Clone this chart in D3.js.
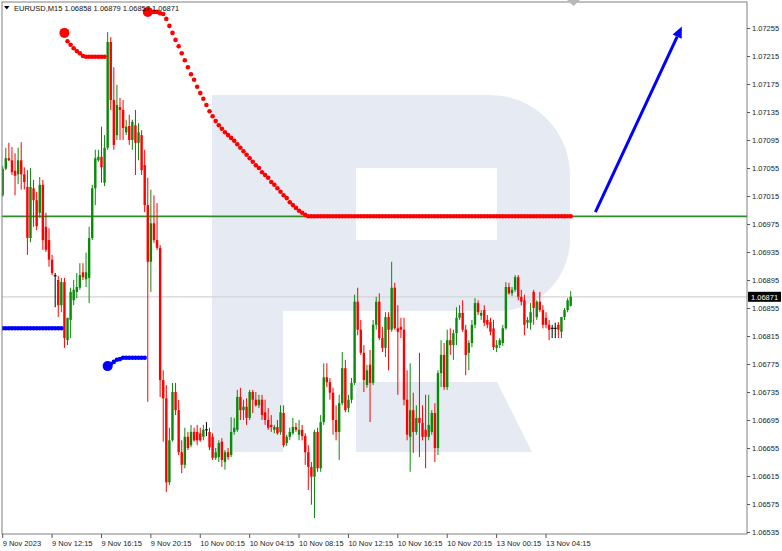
<!DOCTYPE html>
<html><head><meta charset="utf-8">
<script src="https://cdn.jsdelivr.net/npm/d3@7/dist/d3.min.js"></script>
<style>body{margin:0;background:#fff}svg{display:block}text{font-family:"Liberation Sans",Arial,sans-serif}</style>
</head><body>
<svg id="chart" width="782" height="551"></svg>
<script>
const symbolTitle = "EURUSD,M15  1.06858 1.06879 1.06857 1.06871";
const lastPrice = 1.06871;
const levelPrice = 1.06986;
const xTickBars = [0,16,32,48,64,80,96,112,128,144,160,176];
const xTickLabels = ["9 Nov 2023","9 Nov 12:15","9 Nov 16:15","9 Nov 20:15","10 Nov 00:15","10 Nov 04:15","10 Nov 08:15","10 Nov 12:15","10 Nov 16:15","10 Nov 20:15","13 Nov 00:15","13 Nov 04:15"];
const yTicks = [1.07255,1.07215,1.07175,1.07135,1.07095,1.07055,1.07015,1.06975,1.06935,1.06895,1.06855,1.06815,1.06775,1.06735,1.06695,1.06655,1.06615,1.06575,1.06535];

const opens = [1.07016,1.07054,1.07069,1.07066,1.07051,1.07046,1.07066,1.07046,1.07028,1.06955,
1.07026,1.07009,1.06991,1.07031,1.06971,1.06952,1.06924,1.06901,1.06895,1.06859,
1.06892,1.06809,1.06838,1.06866,1.06878,1.06884,1.06906,1.06896,1.06898,1.06955,
1.07026,1.07066,1.07071,1.07034,1.07084,1.07235,1.07152,1.07102,1.07142,1.07138,
1.07106,1.07115,1.07095,1.07116,1.07091,1.07102,1.07059,1.07002,1.06921,1.06976,
1.06952,1.06941,1.06752,1.06726,1.06606,1.06666,1.06735,1.06709,1.06649,1.06631,
1.06671,1.06659,1.06678,1.06678,1.06676,1.06671,1.06681,1.06678,1.06671,1.06641,
1.06642,1.06664,1.06635,1.06649,1.06645,1.06678,1.06681,1.06728,1.06709,1.06714,
1.06698,1.06735,1.06724,1.06716,1.06724,1.06706,1.06695,1.06688,1.06681,1.06685,
1.06678,1.06705,1.06662,1.06671,1.06676,1.06685,1.06674,1.06681,1.06672,1.06649,
1.06628,1.06614,1.06678,1.06626,1.06692,1.06756,1.06749,1.06734,1.06695,1.06678,
1.06719,1.06769,1.06712,1.06724,1.06748,1.06864,1.06824,1.06791,1.06745,1.06774,
1.06748,1.06831,1.06864,1.06812,1.06798,1.06842,1.06824,1.06884,1.06826,1.06828,
1.06824,1.06724,1.06671,1.06709,1.06678,1.06698,1.06691,1.06681,1.06671,1.06678,
1.06705,1.06655,1.06762,1.06788,1.06742,1.06809,1.06802,1.06819,1.06841,1.06848,
1.06824,1.06791,1.06805,1.06831,1.06862,1.06844,1.06852,1.06838,1.06835,1.06826,
1.06798,1.06802,1.06805,1.06826,1.06885,1.06876,1.06881,1.06899,1.06871,1.06866,
1.06834,1.06834,1.06878,1.06842,1.06864,1.06852,1.06841,1.06831,1.06826,1.06826,
1.06831,1.06821,1.06842,1.06852,1.06858];
const highs = [1.07058,1.07084,1.07091,1.07085,1.07076,1.07084,1.07092,1.07056,1.07052,1.07055,
1.07038,1.07021,1.07042,1.07038,1.06991,1.06969,1.06931,1.06905,1.06901,1.06898,
1.06898,1.06841,1.06884,1.06895,1.06905,1.06919,1.06919,1.06934,1.06971,1.07031,
1.07081,1.07081,1.07114,1.07102,1.07249,1.07242,1.07199,1.07174,1.07155,1.07152,
1.07124,1.07131,1.07124,1.07138,1.07119,1.07109,1.07081,1.07041,1.07024,1.07016,
1.07005,1.06945,1.06766,1.06745,1.06684,1.06748,1.06748,1.06724,1.06666,1.06684,
1.06678,1.06688,1.06684,1.06688,1.06684,1.06688,1.06692,1.06684,1.06676,1.06655,
1.06666,1.06669,1.06652,1.06655,1.06699,1.06698,1.06738,1.06741,1.06724,1.06726,
1.06738,1.06738,1.06735,1.06731,1.06731,1.06724,1.06712,1.06702,1.06688,1.06695,
1.06716,1.06716,1.06674,1.06684,1.06698,1.06691,1.06695,1.06688,1.06676,1.06659,
1.06635,1.06681,1.06684,1.06702,1.06776,1.06776,1.06755,1.06741,1.06716,1.06731,
1.06792,1.06781,1.06731,1.06755,1.06874,1.06884,1.06838,1.06802,1.06774,1.06795,
1.06838,1.06871,1.06876,1.06828,1.06849,1.06849,1.06921,1.06891,1.06859,1.06841,
1.06841,1.06766,1.06776,1.06734,1.06716,1.06791,1.06716,1.06731,1.06731,1.06709,
1.06719,1.06766,1.06809,1.06805,1.06824,1.06826,1.06824,1.06856,1.06859,1.06866,
1.06831,1.06809,1.06838,1.06869,1.06866,1.06852,1.06859,1.06845,1.06841,1.06838,
1.06809,1.06812,1.06831,1.06892,1.06891,1.06885,1.06902,1.06902,1.06881,1.06874,
1.06842,1.06862,1.06881,1.06866,1.06878,1.06859,1.06849,1.06838,1.06831,1.06834,
1.06835,1.06842,1.06855,1.06869,1.06879];
const lows = [1.07014,1.07052,1.07065,1.07045,1.07016,1.07032,1.07024,1.07024,1.06931,1.06949,
1.06971,1.06966,1.06984,1.06938,1.06935,1.06914,1.06902,1.06856,1.06842,1.06849,
1.06798,1.06802,1.06812,1.06859,1.06869,1.06881,1.06895,1.06885,1.06862,1.06952,
1.07002,1.07064,1.07034,1.07029,1.07081,1.07138,1.07081,1.07095,1.07095,1.07095,
1.07102,1.07088,1.07081,1.07045,1.07066,1.07045,1.06992,1.06721,1.06878,1.06948,
1.06938,1.06728,1.06664,1.06592,1.06602,1.06664,1.06702,1.06645,1.06619,1.06626,
1.06652,1.06656,1.06664,1.06659,1.06664,1.06666,1.06672,1.06652,1.06638,1.06638,
1.06635,1.06628,1.06624,1.06638,1.06642,1.06674,1.06678,1.06695,1.06695,1.06688,
1.06695,1.06705,1.06714,1.06712,1.06695,1.06688,1.06681,1.06678,1.06676,1.06674,
1.06674,1.06656,1.06658,1.06666,1.06674,1.06678,1.06666,1.06666,1.06631,1.06595,
1.06574,1.06555,1.06621,1.06621,1.06688,1.06742,1.06724,1.06674,1.06666,1.06638,
1.06716,1.06706,1.06706,1.06719,1.06745,1.06816,1.06788,1.06735,1.06741,1.06692,
1.06745,1.06824,1.06809,1.06792,1.06785,1.06766,1.06821,1.06824,1.06731,1.06812,
1.06716,1.06666,1.06621,1.06648,1.06674,1.06642,1.06666,1.06626,1.06666,1.06674,
1.06635,1.06645,1.06742,1.06738,1.06738,1.06788,1.06781,1.06802,1.06838,1.06821,
1.06759,1.06766,1.06799,1.06826,1.06845,1.06838,1.06829,1.06826,1.06816,1.06795,
1.06792,1.06798,1.06801,1.06824,1.06874,1.06872,1.06878,1.06866,1.06859,1.06816,
1.06826,1.06824,1.06831,1.06838,1.06849,1.06826,1.06826,1.06809,1.06812,1.06812,
1.06812,1.06812,1.06838,1.06849,1.06857];
const closes = [1.07054,1.07069,1.07066,1.07049,1.07044,1.07066,1.07046,1.07035,1.06955,1.07028,
1.07009,1.06972,1.07031,1.06952,1.06938,1.06924,1.06905,1.06901,1.06859,1.06892,
1.06812,1.06841,1.06878,1.06881,1.06885,1.06902,1.06899,1.06906,1.06955,1.07026,
1.07069,1.07071,1.07056,1.07084,1.07235,1.07152,1.07088,1.07145,1.07138,1.07112,
1.07114,1.07095,1.07121,1.07091,1.07106,1.07052,1.07002,1.06921,1.06976,1.06952,
1.06941,1.06752,1.06726,1.06606,1.06666,1.06735,1.06709,1.06649,1.06631,1.06671,
1.06655,1.06678,1.06666,1.06666,1.06666,1.06681,1.06681,1.06656,1.06641,1.06649,
1.06662,1.06638,1.06649,1.06642,1.06678,1.06684,1.06728,1.06709,1.06714,1.06698,
1.06735,1.06724,1.06716,1.06724,1.06702,1.06695,1.06684,1.06685,1.06685,1.06676,
1.06706,1.06659,1.06671,1.06678,1.06685,1.06681,1.06681,1.06672,1.06649,1.06628,
1.06614,1.06678,1.06626,1.06692,1.06756,1.06749,1.06734,1.06695,1.06678,1.06719,
1.06769,1.06709,1.06724,1.06748,1.06864,1.06824,1.06791,1.06752,1.06766,1.06748,
1.06831,1.06864,1.06812,1.06798,1.06842,1.06824,1.06884,1.06826,1.06821,1.06824,
1.06724,1.06674,1.06709,1.06678,1.06698,1.06691,1.06671,1.06671,1.06688,1.06705,
1.06655,1.06762,1.06788,1.06742,1.06809,1.06802,1.06819,1.06841,1.06848,1.06824,
1.06788,1.06805,1.06831,1.06862,1.06849,1.06848,1.06834,1.06831,1.06821,1.06799,
1.06802,1.06809,1.06826,1.06885,1.06876,1.06881,1.06899,1.06871,1.06864,1.06831,
1.06838,1.06849,1.06855,1.06864,1.06852,1.06831,1.06831,1.06824,1.06826,1.06826,
1.06824,1.06842,1.06852,1.06866,1.06871];

// indicator dots (null = no value on that bar)
const redLine = [null,null,null,null,null,null,null,null,null,null,
null,null,null,null,null,null,null,null,null,null,
1.07248,1.07236,1.07231,1.07226,1.07222,1.07219,1.07215,1.07214,1.07214,1.07214,
1.07214,1.07214,1.07214,1.07214,null,null,null,null,null,null,
null,null,null,null,null,null,null,1.07278,1.07278,1.07278,
1.07278,1.07276,1.07275,1.07268,1.07258,1.07248,1.07238,1.07229,1.07219,1.07209,
1.07199,1.07189,1.07181,1.07171,1.07162,1.07154,1.07145,1.07136,1.07129,1.07122,
1.07116,1.07111,1.07106,1.07102,1.07098,1.07094,1.07089,1.07084,1.07079,1.07074,
1.07069,1.07064,1.07059,1.07055,1.07049,1.07045,1.07041,1.07035,1.07031,1.07026,
1.07021,1.07016,1.07012,1.07006,1.07002,1.06998,1.06994,1.06991,1.06988,1.06986,
1.06986,1.06986,1.06986,1.06986,1.06986,1.06986,1.06986,1.06986,1.06986,1.06986,
1.06986,1.06986,1.06986,1.06986,1.06986,1.06986,1.06986,1.06986,1.06986,1.06986,
1.06986,1.06986,1.06986,1.06986,1.06986,1.06986,1.06986,1.06986,1.06986,1.06986,
1.06986,1.06986,1.06986,1.06986,1.06986,1.06986,1.06986,1.06986,1.06986,1.06986,
1.06986,1.06986,1.06986,1.06986,1.06986,1.06986,1.06986,1.06986,1.06986,1.06986,
1.06986,1.06986,1.06986,1.06986,1.06986,1.06986,1.06986,1.06986,1.06986,1.06986,
1.06986,1.06986,1.06986,1.06986,1.06986,1.06986,1.06986,1.06986,1.06986,1.06986,
1.06986,1.06986,1.06986,1.06986,1.06986,1.06986,1.06986,1.06986,1.06986,1.06986,
1.06986,1.06986,1.06986,1.06986,1.06986];
const blueLine = [1.06826,1.06826,1.06826,1.06826,1.06826,1.06826,1.06826,1.06826,1.06826,1.06826,
1.06826,1.06826,1.06826,1.06826,1.06826,1.06826,1.06826,1.06826,1.06826,1.06826,
null,null,null,null,null,null,null,null,null,null,
null,null,null,null,1.06772,1.06775,1.06778,1.06781,1.06782,1.06784,
1.06784,1.06784,1.06784,1.06784,1.06784,1.06784,1.06784];
const arrowFrom = {bar:192, price:1.06992};
const arrowTo = {bar:220, price:1.07257};

const plot = {left:2, right:747, top:2, bottom:534};
const svg = d3.select("#chart");
const x = d3.scaleLinear().domain([0,184]).range([2.7,570.7]);
const y = d3.scaleLinear().domain([1.06535,1.07255]).range([532,28]);

// watermark logo
const wm = svg.append("g");
wm.append("path").attr("fill","#e6ebf3").attr("fill-rule","evenodd")
  .attr("d","M212,95 H490 A80,80 0 0 1 570,175 V240 A72,72 0 0 1 498,311 H283 V452 H212 Z M356,168 H497 V240 H356 Z");
wm.append("path").attr("fill","#e6ebf3").attr("d","M356,382 H497 L532,452 H356 Z");

const g = svg.append("g");
g.append("clipPath").attr("id","clip").append("rect")
  .attr("x",plot.left).attr("y",plot.top).attr("width",plot.right-plot.left).attr("height",plot.bottom-plot.top);

// current price line
g.append("line").attr("x1",plot.left).attr("x2",plot.right).attr("y1",y(lastPrice)).attr("y2",y(lastPrice))
  .attr("stroke","#d4d4d4").attr("stroke-width",1.3);
// level line
g.append("line").attr("x1",plot.left).attr("x2",plot.right).attr("y1",y(levelPrice)).attr("y2",y(levelPrice))
  .attr("stroke","#2a8f2a").attr("stroke-width",1.8);

// candles
const bars = d3.range(opens.length).map(i=>({i,o:opens[i],h:highs[i],l:lows[i],c:closes[i]}));
const colorOf = d => d.c>d.o ? "#0a8a0a" : (d.c<d.o ? "#ff0000" : "#000000");
const cg = g.append("g").attr("clip-path","url(#clip)");
cg.selectAll("line.wick").data(bars).join("line").attr("class","wick")
  .attr("x1",d=>x(d.i)).attr("x2",d=>x(d.i)).attr("y1",d=>y(d.h)).attr("y2",d=>y(d.l))
  .attr("stroke",colorOf).attr("stroke-width",1);
cg.selectAll("rect.body").data(bars.filter(d=>d.o!==d.c)).join("rect").attr("class","body")
  .attr("x",d=>x(d.i)-1.2).attr("width",2.4)
  .attr("y",d=>y(Math.max(d.o,d.c))).attr("height",d=>Math.max(1,Math.abs(y(d.o)-y(d.c))))
  .attr("fill",colorOf);
cg.selectAll("line.doji").data(bars.filter(d=>d.o===d.c)).join("line").attr("class","doji")
  .attr("x1",d=>x(d.i)-1.5).attr("x2",d=>x(d.i)+1.5).attr("y1",d=>y(d.o)).attr("y2",d=>y(d.o))
  .attr("stroke","#000").attr("stroke-width",1);

// indicator dots
function drawDots(arr, color){
  const pts = [];
  arr.forEach((v,i)=>{ if(v!==null && v!==undefined){ pts.push({i,v,start:(i===0||arr[i-1]===null)}); } });
  const dg = g.append("g").attr("clip-path","url(#clip)");
  dg.selectAll("circle.s").data(pts).join("circle").attr("class","s")
    .attr("cx",d=>x(d.i)).attr("cy",d=>y(d.v)).attr("r",2.3).attr("fill",color);
  dg.selectAll("circle.b").data(pts.filter(d=>d.start && d.i>0)).join("circle").attr("class","b")
    .attr("cx",d=>x(d.i)).attr("cy",d=>y(d.v)).attr("r",5).attr("fill",color);
}
drawDots(blueLine,"#0000ff");
drawDots(redLine,"#ff0000");

// arrow
const ax1=x(arrowFrom.bar), ay1=y(arrowFrom.price), ax2=x(arrowTo.bar), ay2=y(arrowTo.price);
const ang = Math.atan2(ay2-ay1, ax2-ax1);
const hl = 11, hw = 5;
const bx = ax2 - hl*Math.cos(ang), by = ay2 - hl*Math.sin(ang);
g.append("line").attr("x1",ax1).attr("y1",ay1).attr("x2",bx).attr("y2",by)
  .attr("stroke","#0000ff").attr("stroke-width",3);
g.append("path").attr("fill","#0000ff")
  .attr("d",`M${ax2},${ay2} L${bx+hw*Math.sin(ang)},${by-hw*Math.cos(ang)} L${bx-hw*Math.sin(ang)},${by+hw*Math.cos(ang)} Z`);

// frame
g.append("rect").attr("x",plot.left).attr("y",plot.top).attr("width",plot.right-plot.left).attr("height",plot.bottom-plot.top)
  .attr("fill","none").attr("stroke","#808080").attr("stroke-width",1);
g.append("path").attr("d","M567,0 L580,0 L573.5,6 Z").attr("fill","#b8b8b8");

// y axis
const yAxis = svg.append("g").attr("transform",`translate(${plot.right},0)`)
  .call(d3.axisRight(y).tickValues(yTicks).tickFormat(d3.format(".5f")).tickSize(3).tickPadding(2));
yAxis.select(".domain").remove();
yAxis.selectAll("line").attr("stroke","#555");
yAxis.selectAll("text").attr("font-size","7.5px").attr("fill","#222").attr("font-family","Liberation Sans, Arial, sans-serif");

// last price label
svg.append("rect").attr("x",748).attr("y",y(lastPrice)-5).attr("width",33).attr("height",10).attr("fill","#000");
svg.append("text").attr("x",751).attr("y",y(lastPrice)+2.8).attr("fill","#fff").attr("font-size","7.5px").text(d3.format(".5f")(lastPrice));

// x axis
const xa = svg.append("g");
xa.selectAll("line").data(xTickBars).join("line")
  .attr("x1",d=>x(d)).attr("x2",d=>x(d)).attr("y1",plot.bottom).attr("y2",plot.bottom+4).attr("stroke","#555");
xa.selectAll("text").data(xTickBars).join("text")
  .attr("x",d=>x(d)).attr("y",546).attr("font-size","7.5px").attr("fill","#222")
  .text((d,k)=>xTickLabels[k]);

// title
svg.append("path").attr("d","M4,6 L9.5,6 L6.75,9.5 Z").attr("fill","#000");
svg.append("text").attr("x",14).attr("y",10.5).attr("font-size","7.5px").attr("fill","#111").text(symbolTitle);
</script>
</body></html>
